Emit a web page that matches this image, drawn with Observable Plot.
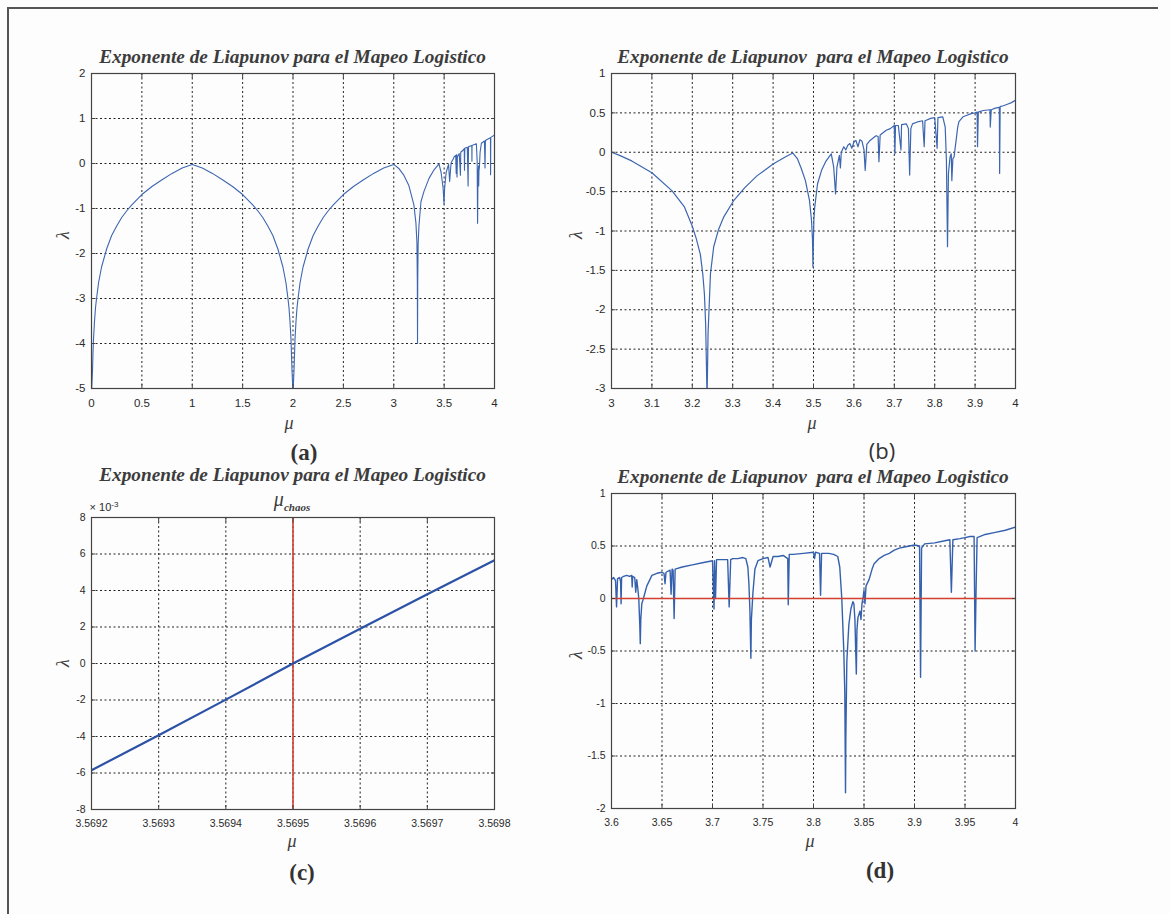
<!DOCTYPE html>
<html><head><meta charset="utf-8">
<script src="https://cdn.jsdelivr.net/npm/d3@7"></script>
<script src="https://cdn.jsdelivr.net/npm/@observablehq/plot@0.6"></script>
<style>
body{margin:0;background:#fff;}
#fig{position:relative;width:1170px;height:914px;background:#fdfdfd;overflow:hidden;}
.title{position:absolute;font-family:"Liberation Serif","Times New Roman",serif;font-style:italic;font-weight:bold;font-size:19.3px;color:#3c3c3c;white-space:pre;text-align:center;line-height:1;}
.lab{position:absolute;font-family:"Liberation Serif",serif;font-style:italic;font-size:18px;color:#3c3c3c;line-height:1;transform:translate(-50%,-50%);}
.tag{position:absolute;font-family:"Liberation Serif",serif;font-weight:bold;font-size:23px;color:#333;line-height:1;transform:translate(-50%,-50%);}
.tags{position:absolute;font-family:"Open Sans","DejaVu Sans",sans-serif;font-size:22px;color:#333;line-height:1;transform:translate(-50%,-50%);}
#border{position:absolute;left:7px;top:7px;width:1149px;height:920px;border-top:2px solid #555;border-left:2px solid #555;}
</style></head><body><div id="fig"><div id="border"></div></div>
<script>
// ---------- data ----------
const title = "Exponente de Liapunov para el Mapeo Logistico";
const title2 = "Exponente de Liapunov  para el Mapeo Logistico";

// (a) mu in [0,4]
const curveA = [[0.002,-5],[0.01,-4.6],[0.015,-4.2],[0.02,-3.9],[0.03,-3.5],[0.04,-3.2],[0.05,-3.0],[0.07,-2.65],[0.1,-2.3],[0.15,-1.9],[0.2,-1.6],[0.25,-1.39],[0.3,-1.2],[0.35,-1.05],[0.4,-0.92],[0.5,-0.69],[0.6,-0.51],[0.7,-0.36],[0.8,-0.22],[0.9,-0.1],[1.0,-0.02],
[1.1,-0.1],[1.2,-0.22],[1.3,-0.36],[1.4,-0.51],[1.5,-0.69],[1.6,-0.92],[1.65,-1.05],[1.7,-1.2],[1.75,-1.39],[1.8,-1.6],[1.85,-1.9],[1.9,-2.3],[1.93,-2.65],[1.95,-3.0],[1.96,-3.2],[1.97,-3.5],[1.98,-3.9],[1.99,-4.6],[1.998,-5],
[2.002,-5],[2.01,-4.6],[2.02,-3.9],[2.03,-3.5],[2.04,-3.2],[2.05,-3.0],[2.07,-2.65],[2.1,-2.3],[2.15,-1.9],[2.2,-1.6],[2.25,-1.39],[2.3,-1.2],[2.35,-1.05],[2.4,-0.92],[2.5,-0.69],[2.6,-0.51],[2.7,-0.36],[2.8,-0.22],[2.9,-0.1],[3.0,-0.02],
[3.05,-0.11],[3.1,-0.26],[3.15,-0.49],[3.2,-0.92],[3.22,-1.32],[3.23,-1.75],[3.234,-2.6],[3.236,-4.0],[3.238,-2.6],[3.242,-1.8],[3.25,-1.39],[3.27,-0.85],[3.3,-0.62],[3.35,-0.33],[3.4,-0.14],[3.449,-0.01],
[3.47,-0.2],[3.49,-0.55],[3.499,-0.9],[3.505,-0.55],[3.52,-0.2],[3.544,-0.02],[3.555,-0.4],[3.565,-0.1],[3.57,0.02],[3.59,0.1],[3.6,0.15],[3.615,0.18],[3.62,-0.22],[3.625,0.2],[3.628,-0.3],[3.632,0.15],[3.65,0.22],[3.662,-0.26],[3.665,0.25],[3.69,0.3],[3.7,0.33],[3.702,-0.15],[3.705,0.34],[3.73,0.36],[3.738,-0.5],[3.742,0.37],[3.775,0.4],[3.776,0.05],[3.777,0.4],[3.8,0.42],[3.82,0.44],[3.828,0.05],[3.832,-1.33],[3.836,-0.3],[3.842,-0.05],[3.843,-0.5],[3.846,-0.15],[3.85,-0.1],[3.857,0.25],[3.87,0.45],[3.9,0.5],[3.906,-0.1],[3.91,0.51],[3.94,0.55],[3.96,0.57],[3.961,-0.25],[3.963,0.58],[4.0,0.63]];
const xTicksA = [0,0.5,1,1.5,2,2.5,3,3.5,4];
const xLabelsA = ["0","0.5","1","1.5","2","2.5","3","3.5","4"];
const yTicksA = [-5,-4,-3,-2,-1,0,1,2];
const yLabelsA = ["-5","-4","-3","-2","-1","0","1","2"];

// (b) mu in [3,4]
const curveB = [[3.0,0],[3.02,-0.04],[3.05,-0.11],[3.1,-0.26],[3.15,-0.49],[3.18,-0.69],[3.2,-0.94],[3.21,-1.1],[3.22,-1.3],[3.226,-1.55],[3.23,-1.8],[3.233,-2.18],[3.235,-2.7],[3.236,-3.0],[3.237,-3.0],[3.239,-2.3],[3.241,-2.05],[3.245,-1.54],[3.253,-1.2],[3.265,-0.98],[3.278,-0.82],[3.303,-0.61],[3.33,-0.45],[3.36,-0.3],[3.4,-0.15],[3.43,-0.06],[3.449,-0.01],
[3.46,-0.08],[3.47,-0.21],[3.48,-0.36],[3.49,-0.61],[3.495,-0.86],[3.4975,-1.1],[3.4986,-1.46],[3.4995,-1.2],[3.501,-0.85],[3.503,-0.7],[3.51,-0.4],[3.52,-0.23],[3.53,-0.12],[3.544,-0.02],
[3.55,-0.19],[3.5546,-0.53],[3.558,-0.19],[3.564,-0.04],[3.5666,-0.2],[3.5688,0],[3.575,0.07],[3.58,0.03],[3.585,0.09],[3.59,0.11],[3.595,0.05],[3.6,0.13],[3.605,0.15],[3.61,0.07],[3.615,0.16],[3.62,0.14],[3.625,0.03],[3.628,-0.23],[3.632,0.1],[3.64,0.15],[3.65,0.19],[3.655,0.21],[3.66,0.2],[3.662,-0.12],[3.665,0.22],[3.68,0.28],[3.69,0.3],[3.7,0.34],[3.7015,-0.02],[3.703,0.34],[3.71,0.34],[3.7165,0.03],[3.718,0.35],[3.73,0.36],[3.735,0.3],[3.738,-0.29],[3.741,0.3],[3.745,0.36],[3.76,0.39],[3.77,0.4],[3.774,0.07],[3.776,0.4],[3.79,0.43],[3.8,0.44],[3.806,0.05],[3.808,0.44],[3.82,0.45],[3.826,0.32],[3.829,-0.1],[3.8317,-1.2],[3.834,-0.27],[3.838,-0.06],[3.841,-0.02],[3.8424,-0.36],[3.845,-0.08],[3.848,-0.06],[3.85,0.03],[3.853,0.15],[3.857,0.32],[3.86,0.39],[3.87,0.45],[3.88,0.47],[3.89,0.49],[3.9,0.5],[3.905,0.51],[3.906,0.07],[3.908,0.51],[3.92,0.53],[3.937,0.54],[3.9375,0.32],[3.94,0.54],[3.95,0.56],[3.96,0.57],[3.9607,-0.27],[3.962,0.58],[3.97,0.59],[3.98,0.61],[3.99,0.63],[4.0,0.66]];
const xTicksB = [3,3.1,3.2,3.3,3.4,3.5,3.6,3.7,3.8,3.9,4];
const xLabelsB = ["3","3.1","3.2","3.3","3.4","3.5","3.6","3.7","3.8","3.9","4"];
const yTicksB = [-3,-2.5,-2,-1.5,-1,-0.5,0,0.5,1];
const yLabelsB = ["-3","-2.5","-2","-1.5","-1","-0.5","0","0.5","1"];

// (c) lambda in units of 1e-3
const curveC = [[3.5692,-5.85],[3.5693,-3.93],[3.5694,-1.98],[3.5695,0],[3.5696,1.9],[3.5697,3.8],[3.5698,5.66]];
const muChaos = [3.5695];
const xTicksC = [3.5692,3.5693,3.5694,3.5695,3.5696,3.5697,3.5698];
const xLabelsC = ["3.5692","3.5693","3.5694","3.5695","3.5696","3.5697","3.5698"];
const yTicksC = [-8,-6,-4,-2,0,2,4,6,8];
const yLabelsC = ["-8","-6","-4","-2","0","2","4","6","8"];

// (d) mu in [3.6,4]
const curveD = [[3.600,0.18],[3.602,0.20],[3.604,0.17],[3.605,-0.08],[3.606,0.19],[3.608,0.20],[3.609,0.16],[3.6095,-0.05],[3.610,0.20],[3.612,0.21],[3.615,0.22],[3.618,0.21],[3.620,0.22],[3.6205,0.11],[3.621,0.21],[3.623,0.20],[3.624,0.06],[3.625,0.18],[3.626,0.10],[3.627,0.0],[3.628,-0.25],[3.6285,-0.43],[3.629,-0.2],[3.630,-0.05],[3.631,-0.02],[3.633,0.05],[3.635,0.12],[3.638,0.18],[3.64,0.22],[3.645,0.24],[3.65,0.25],[3.652,0.24],[3.653,0.14],[3.654,0.25],[3.658,0.27],[3.659,0.04],[3.660,0.28],[3.661,0.27],[3.662,-0.19],[3.663,0.28],[3.67,0.30],[3.68,0.32],[3.69,0.34],[3.70,0.36],[3.7015,-0.10],[3.702,0.36],[3.703,0.0],[3.704,0.37],[3.71,0.37],[3.715,0.37],[3.7165,-0.08],[3.718,0.37],[3.72,0.38],[3.725,0.38],[3.73,0.39],[3.733,0.38],[3.735,0.30],[3.736,0.15],[3.737,-0.1],[3.738,-0.57],[3.7385,-0.2],[3.739,-0.12],[3.740,0.05],[3.742,0.28],[3.745,0.36],[3.75,0.38],[3.755,0.39],[3.757,0.30],[3.76,0.40],[3.765,0.40],[3.77,0.41],[3.7745,0.38],[3.775,-0.06],[3.776,0.42],[3.78,0.42],[3.79,0.43],[3.80,0.44],[3.801,0.38],[3.802,0.44],[3.806,0.43],[3.807,0.03],[3.808,0.43],[3.815,0.43],[3.82,0.42],[3.824,0.40],[3.826,0.30],[3.828,0.0],[3.830,-0.5],[3.831,-0.9],[3.8317,-1.85],[3.832,-1.35],[3.833,-0.6],[3.835,-0.25],[3.837,-0.1],[3.839,-0.03],[3.840,-0.05],[3.841,-0.2],[3.8424,-0.72],[3.843,-0.3],[3.844,-0.18],[3.846,-0.12],[3.847,-0.2],[3.848,-0.05],[3.849,0.0],[3.850,0.08],[3.851,-0.05],[3.852,0.12],[3.855,0.18],[3.858,0.28],[3.86,0.33],[3.865,0.38],[3.87,0.41],[3.875,0.43],[3.88,0.46],[3.885,0.48],[3.89,0.49],[3.895,0.50],[3.90,0.51],[3.905,0.50],[3.906,-0.75],[3.907,0.48],[3.91,0.52],[3.92,0.53],[3.93,0.55],[3.935,0.56],[3.9365,0.06],[3.938,0.56],[3.945,0.57],[3.95,0.58],[3.955,0.59],[3.959,0.59],[3.960,-0.5],[3.961,0.1],[3.962,0.58],[3.97,0.61],[3.98,0.63],[3.99,0.65],[4.0,0.68]];
const zeroLine = [0];
const xTicksD = [3.6,3.65,3.7,3.75,3.8,3.85,3.9,3.95,4];
const xLabelsD = ["3.6","3.65","3.7","3.75","3.8","3.85","3.9","3.95","4"];
const yTicksD = [-2,-1.5,-1,-0.5,0,0.5,1];
const yLabelsD = ["-2","-1.5","-1","-0.5","0","0.5","1"];

// ---------- drawing ----------
const fig = document.getElementById("fig");
const ML = 52, MR = 16, MT = 14, MB = 34;
const BLUE = "#3d66b0", RED = "#d2402f";

function panel(box, cfg) {
  const w = box.r - box.l + ML + MR, h = box.b - box.t + MT + MB;
  const xl = new Map(cfg.xTicks.map((t, i) => [t, cfg.xLabels[i]]));
  const yl = new Map(cfg.yTicks.map((t, i) => [t, cfg.yLabels[i]]));
  const svg = Plot.plot({
    width: w, height: h,
    marginLeft: ML, marginRight: MR, marginTop: MT, marginBottom: MB,
    x: {domain: cfg.xDomain}, y: {domain: cfg.yDomain},
    style: {background: "transparent", fontFamily: "'Liberation Sans', Arial, sans-serif", fontSize: cfg.fs + "px", color: "#2a2a2a", overflow: "visible"},
    marks: [
      Plot.ruleX(cfg.xTicks, {stroke: "#222", strokeWidth: 1, strokeDasharray: "2,2.5"}),
      Plot.ruleY(cfg.yTicks, {stroke: "#222", strokeWidth: 1, strokeDasharray: "2,2.5"}),
      ...cfg.marks,
      Plot.frame({stroke: "#444", strokeWidth: 1.2}),
      Plot.axisX(cfg.xTicks, {tickSize: -4, tickPadding: 14, tickFormat: d => xl.get(d), label: null, stroke: "#444", fill: "#2a2a2a"}),
      Plot.axisX(cfg.xTicks, {anchor: "top", tickSize: -4, tickFormat: () => "", label: null, stroke: "#444"}),
      Plot.axisY(cfg.yTicks, {tickSize: -4, tickPadding: 10, tickFormat: d => yl.get(d), label: null, stroke: "#444", fill: "#2a2a2a"}),
      Plot.axisY(cfg.yTicks, {anchor: "right", tickSize: -4, tickFormat: () => "", label: null, stroke: "#444"})
    ]
  });
  svg.style.position = "absolute";
  svg.style.left = (box.l - ML) + "px";
  svg.style.top = (box.t - MT) + "px";
  fig.appendChild(svg);
}

function addText(cls, text, x, y, extra) {
  const d = document.createElement("div");
  d.className = cls;
  d.innerHTML = text;
  d.style.left = x + "px";
  d.style.top = y + "px";
  if (extra) Object.assign(d.style, extra);
  fig.appendChild(d);
  return d;
}
function addTitle(text, box, y) {
  const d = document.createElement("div");
  d.className = "title";
  d.textContent = text;
  d.style.left = box.l + "px";
  d.style.width = (box.r - box.l) + "px";
  d.style.top = y + "px";
  fig.appendChild(d);
}

const boxA = {l: 91, r: 494, t: 73, b: 388};
const boxB = {l: 611, r: 1015, t: 73, b: 388};
const boxC = {l: 91, r: 494, t: 517, b: 809};
const boxD = {l: 611, r: 1015, t: 493, b: 808};

panel(boxA, {xDomain: [0, 4], yDomain: [-5, 2], xTicks: xTicksA, xLabels: xLabelsA, yTicks: yTicksA, yLabels: yLabelsA, fs: 11.5,
  marks: [Plot.line(curveA, {x: d => d[0], y: d => d[1], stroke: BLUE, strokeWidth: 1.1, clip: true})]});
panel(boxB, {xDomain: [3, 4], yDomain: [-3, 1], xTicks: xTicksB, xLabels: xLabelsB, yTicks: yTicksB, yLabels: yLabelsB, fs: 11.5,
  marks: [Plot.line(curveB, {x: d => d[0], y: d => d[1], stroke: BLUE, strokeWidth: 1.2, clip: true})]});
panel(boxC, {xDomain: [3.5692, 3.5698], yDomain: [-8, 8], xTicks: xTicksC, xLabels: xLabelsC, yTicks: yTicksC, yLabels: yLabelsC, fs: 10.5,
  marks: [
    Plot.ruleX(muChaos, {stroke: RED, strokeWidth: 1.6}),
    Plot.line(curveC, {x: d => d[0], y: d => d[1], stroke: "#2c52a6", strokeWidth: 2.2, clip: true})
  ]});
panel(boxD, {xDomain: [3.6, 4], yDomain: [-2, 1], xTicks: xTicksD, xLabels: xLabelsD, yTicks: yTicksD, yLabels: yLabelsD, fs: 10.5,
  marks: [
    Plot.line(curveD, {x: d => d[0], y: d => d[1], stroke: "#3560ad", strokeWidth: 1.4, clip: true}),
    Plot.ruleY(zeroLine, {stroke: RED, strokeWidth: 1.3})
  ]});

addTitle(title, boxA, 47);
addTitle(title2, boxB, 47);
addTitle(title, boxC, 465);
addTitle(title2, boxD, 467);

// axis labels
addText("lab", "&mu;", 289, 423);
addText("lab", "&mu;", 812, 423);
addText("lab", "&mu;", 292, 841);
addText("lab", "&mu;", 810, 841);
addText("lab", "&lambda;", 63, 235, {transform: "translate(-50%,-50%) rotate(-90deg)"});
addText("lab", "&lambda;", 576, 235, {transform: "translate(-50%,-50%) rotate(-90deg)"});
addText("lab", "&lambda;", 63, 663, {transform: "translate(-50%,-50%) rotate(-90deg)"});
addText("lab", "&lambda;", 576, 655, {transform: "translate(-50%,-50%) rotate(-90deg)"});

// mu_chaos and exponent
addText("lab", "&mu;<span style='font-size:11px;font-weight:bold;position:relative;top:5px'>chaos</span>", 292, 499, {fontSize: "20px"});
addText("lab", "&times; 10<sup style='font-size:8px'>-3</sup>", 104, 507, {fontFamily: "'Liberation Sans',Arial,sans-serif", fontStyle: "normal", fontSize: "11px", color: "#2a2a2a"});

// panel tags
addText("tag", "(a)", 304, 452);
addText("tags", "(b)", 882, 450);
addText("tag", "(c)", 302, 872);
addText("tag", "(d)", 880, 870);
</script></body></html>
